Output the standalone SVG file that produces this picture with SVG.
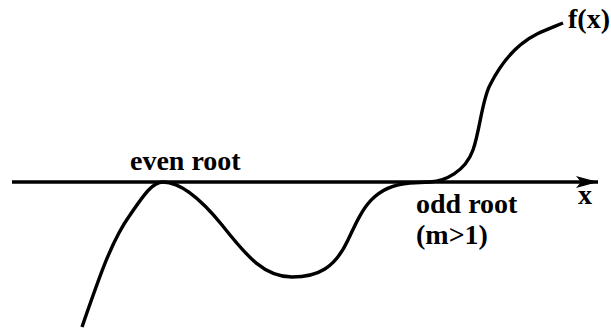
<svg xmlns="http://www.w3.org/2000/svg" width="611" height="329" viewBox="0 0 611 329">
<style>
.lbl{font-family:"Liberation Serif","Times New Roman",serif;font-weight:bold;font-size:28px;fill:#000}
.ln{fill:none;stroke:#000;stroke-width:3.4}
</style>
<defs>
<marker id="ah" viewBox="0 0 22 12" refX="22" refY="6" markerWidth="22" markerHeight="12" markerUnits="userSpaceOnUse" orient="auto">
<path d="M0,0 L22,6 L0,12 L5,6 Z" fill="#000"/>
</marker>
</defs>
<rect width="611" height="329" fill="#fff"/>
<g id="connectors">
<line id="x-axis" class="ln" x1="12" y1="182" x2="598" y2="182" marker-end="url(#ah)"/>
<path id="fx-curve" class="ln" d="M82,327 C100,275 112,240 130,215 C145,193 153,182 163,182 C180,182 200,198 222,225 C248,258 265,277 292,277 C318,277 335,268 348,240 C362,210 372,186 410,183 L430,182 C445,181 465,172 473,150 C480,130 482,100 490,85 C500,65 515,45 537,34 C548,29 556,26 563,23"/>
</g>
<g id="label-even"><text class="lbl" x="130" y="170">even root</text></g>
<g id="label-odd"><text class="lbl" x="416" y="213">odd root</text><text class="lbl" x="416" y="244">(m&gt;1)</text></g>
<g id="label-x"><text class="lbl" x="578" y="204">x</text></g>
<g id="label-fx"><text class="lbl" x="568" y="28">f(x)</text></g>
</svg>
